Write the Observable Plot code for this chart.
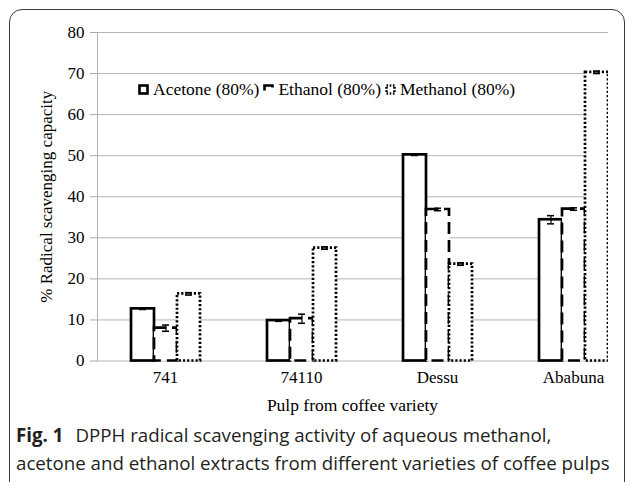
<!DOCTYPE html>
<html>
<head>
<meta charset="utf-8">
<script src="https://cdn.jsdelivr.net/npm/d3@7"></script>
<script src="https://cdn.jsdelivr.net/npm/@observablehq/plot@0.6"></script>
<style>
  html, body { margin: 0; padding: 0; background: #fff; }
  body { width: 629px; height: 482px; position: relative; overflow: hidden; }
  #frame { position: absolute; left: 9px; top: 9px; width: 616px; height: 520px; z-index: 5;
           border: 1.3px solid #3a3a3a; border-radius: 13px; box-sizing: border-box;
           background: transparent; pointer-events: none; }
  #chart { position: absolute; left: 0; top: 0; }
  #chart g[aria-label="y-axis label"] { font-size: 17px; }
  #legend { position: absolute; left: 138px; top: 79px; display: flex; align-items: center;
            font-family: "Liberation Serif", serif; font-size: 17.5px; color: #000; white-space: nowrap; }
  #legend .item { display: flex; align-items: center; margin-right: 4px; }
  #legend svg { margin-right: 4px; }
  #caption { position: absolute; left: 16px; top: 421px; font-family: "Open Sans", sans-serif;
             font-size: 19px; line-height: 28px; color: #231f20; white-space: nowrap; }
  #caption b { font-weight: 700; margin-right: 12px; }
</style>
</head>
<body>
<div id="chart"></div>
<div id="legend"></div>
<div id="caption"><b>Fig. 1</b><span id="cap1">DPPH radical scavenging activity of aqueous methanol,</span><br><span id="cap2">acetone and ethanol extracts from different varieties of coffee pulps</span></div>
<div id="frame"></div>
<script>
// ---- data ----
const categories = ["741", "74110", "Dessu", "Ababuna"];
const series = ["Acetone (80%)", "Ethanol (80%)", "Methanol (80%)"];
const acetone = [12.7, 9.85, 50.2, 34.4];
const ethanol = [8.0, 10.3, 36.9, 37.0];
const methanol = [16.35, 27.5, 23.6, 70.3];
const acetoneErr = [0.15, 0.2, 0.15, 1.0];
const ethanolErr = [0.75, 1.1, 0.3, 0.3];
const methanolErr = [0.3, 0.3, 0.3, 0.3];
const yTicks = [0, 10, 20, 30, 40, 50, 60, 70, 80];
const yLabel = "% Radical scavenging capacity";
const xLabel = "Pulp from coffee variety";

// ---- table built from arrays ----
const values = [acetone, ethanol, methanol];
const errors = [acetoneErr, ethanolErr, methanolErr];
const rows = [];
series.forEach((s, i) => categories.forEach((c, j) => {
  rows.push({category: c, series: s, value: values[i][j], err: errors[i][j]});
}));
const dashes = [null, "12,6", "2.2,2"];

const barMarks = series.map((s, i) => Plot.barY(rows.filter(d => d.series === s), {
  fx: "category", x: "series", y: "value",
  fill: "white", stroke: "black", strokeWidth: 2.7,
  strokeDasharray: dashes[i]
}));

const chart = Plot.plot({
  width: 608,
  height: 430,
  marginLeft: 95,
  marginRight: -34,
  marginTop: 32,
  marginBottom: 69.5,
  style: {fontFamily: "Liberation Serif, serif", fontSize: "17px", color: "black", background: "transparent"},
  fx: {domain: categories, padding: 0, label: null},
  x: {domain: series, paddingInner: 0, paddingOuter: 1.4, axis: null},
  y: {domain: [0, 80]},
  marks: [
    Plot.ruleY(yTicks, {stroke: "#b4b4b4", strokeWidth: 1}),
    Plot.frame({anchor: "left", facetAnchor: "left", stroke: "#b4b4b4"}),
    ...barMarks,
    Plot.ruleX(rows, {fx: "category", x: "series", y1: d => d.value - d.err, y2: d => d.value + d.err, stroke: "black", strokeWidth: 1.2}),
    Plot.tickY(rows, {fx: "category", x: "series", y: d => d.value - d.err, insetLeft: 8, insetRight: 8, stroke: "black", strokeWidth: 1.5}),
    Plot.tickY(rows, {fx: "category", x: "series", y: d => d.value + d.err, insetLeft: 8, insetRight: 8, stroke: "black", strokeWidth: 1.5}),
    Plot.axisY({ticks: yTicks, tickSize: 7, tickPadding: 6, stroke: "#a8a8a8", fill: "black",
      label: yLabel, labelAnchor: "center", labelOffset: 58, labelArrow: "none"}),
    Plot.axisFx({anchor: "bottom", tickSize: 0, tickPadding: 10, fill: "black", label: null}),
    Plot.text([xLabel], {facet: "super", frameAnchor: "bottom", text: d => d, dx: -17, dy: 50,
      fontSize: 17.5, fill: "black"})
  ]
});
document.getElementById("chart").appendChild(chart);

// ---- legend ----
const legend = document.getElementById("legend");
const legendDash = [null, "10,17,5", "1.6,1.6"];
series.forEach((s, i) => {
  const item = document.createElement("div");
  item.className = "item";
  const sw = d3.create("svg").attr("width", 11).attr("height", 11);
  sw.append("rect").attr("x", 1.5).attr("y", 1.5).attr("width", 8).attr("height", 8)
    .attr("fill", "white").attr("stroke", "black").attr("stroke-width", 2.6)
    .attr("stroke-dasharray", legendDash[i]);
  item.appendChild(sw.node());
  const t = document.createElement("span");
  t.textContent = s;
  item.appendChild(t);
  legend.appendChild(item);
});

// ---- fit caption so its second line spans the same width as in the figure ----
const cap = document.getElementById("caption");
const cap2 = document.getElementById("cap2");
const w2 = cap2.getBoundingClientRect().width;
if (w2 > 0) {
  const fs = 19 * 594 / w2;
  cap.style.fontSize = Math.min(fs, 20) + "px";
}
</script>
</body>
</html>
